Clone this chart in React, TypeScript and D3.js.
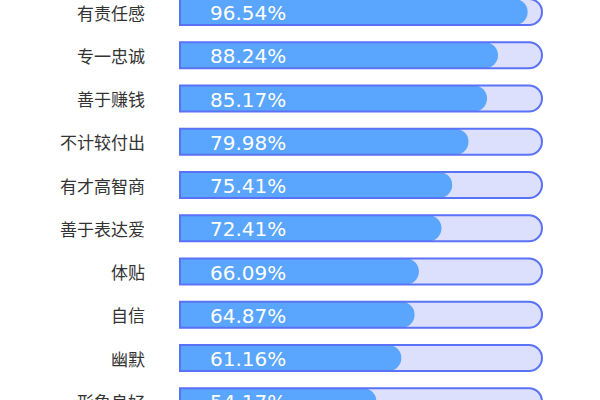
import * as React from 'react';
import * as d3 from "d3";

// Categories (top to bottom) and their percentages
const categories = ["有责任感", "专一忠诚", "善于赚钱", "不计较付出", "有才高智商", "善于表达爱", "体贴", "自信", "幽默", "形象良好"]
const values = [96.54, 88.24, 85.17, 79.98, 75.41, 72.41, 66.09, 64.87, 61.16, 54.17]

const W = 600
const H = 400
const barH = 26

// Bar shape: square on the left, rounded on the right
const roundRight = (x0: number, x1: number, cy: number, h: number) => {
    const r = h / 2
    const xe = Math.max(x0, x1 - r)
    return `M${x0},${cy - r}H${xe}A${r},${r} 0 0 1 ${xe},${cy + r}H${x0}Z`
}

export default function App() {
    const x = d3.scaleLinear().domain([0, 100]).range([183, 540])
    const y = d3.scalePoint<string>().domain(categories).range([12, 12 + 9 * 43.25])
    const trackX0 = 180
    const trackX1 = 542

    return (
        <svg width={W} height={H} style={{ position: "fixed", left: 0, top: 0 }}>
            <rect width={W} height={H} fill="#ffffff" />
            {categories.map((c, i) => {
                const cy = y(c)!
                return (
                    <g key={c}>
                        <text x={145} y={cy} textAnchor="end" dominantBaseline="central"
                            fontFamily="'Noto Sans CJK SC', sans-serif" fontSize={17} fill="#333333">{c}</text>
                        <path d={roundRight(trackX0, trackX1, cy, barH)} fill="#dce0fc" />
                        <path d={roundRight(trackX0, x(values[i]), cy, barH)} fill="#5aa5fd" />
                        <path d={roundRight(trackX0, trackX1, cy, barH)} fill="none" stroke="#5a72f6" strokeWidth={2} />
                        <text x={210} y={cy + 1} dominantBaseline="central"
                            fontFamily="'DejaVu Sans', sans-serif" fontSize={20} fill="#ffffff">{values[i].toFixed(2)}%</text>
                    </g>
                )
            })}
        </svg>
    )
}
